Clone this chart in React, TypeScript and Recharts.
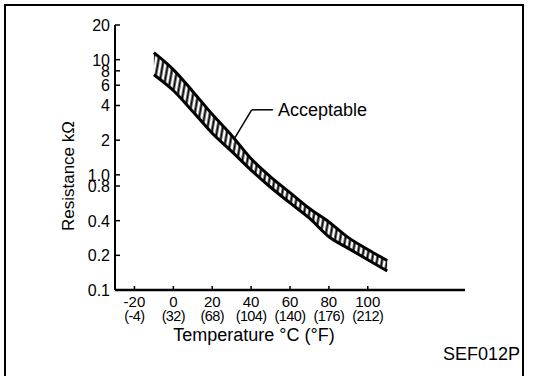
import React from "react";
import {
  ComposedChart,
  Area,
  Line,
  XAxis,
  YAxis,
  Label,
  ReferenceLine,
  ReferenceDot,
} from "recharts";

// thermistor resistance band (kOhm)
const temps = [-10, 0, 10, 20, 30, 40, 50, 60, 70, 80, 90, 100, 110];
const upperK = [11.5, 8.2, 5.3, 3.35, 2.2, 1.38, 0.96, 0.7, 0.51, 0.39, 0.285, 0.225, 0.18];
const lowerK = [7.4, 5.4, 3.55, 2.3, 1.6, 1.1, 0.78, 0.57, 0.42, 0.29, 0.23, 0.183, 0.146];

const xTicks = [-20, 0, 20, 40, 60, 80, 100];
const xTicksF = ["(-4)", "(32)", "(68)", "(104)", "(140)", "(176)", "(212)"];
const yTicks = [0.1, 0.2, 0.4, 0.8, 1, 2, 4, 6, 8, 10, 20];
const yTickLabels = ["0.1", "0.2", "0.4", "0.8", "1.0", "2", "4", "6", "8", "10", "20"];

const FONT = "'Liberation Sans', Arial, Helvetica, sans-serif";

const chartData = temps.map((t, i) => ({
  t,
  hi: upperK[i],
  lo: lowerK[i],
  band: [lowerK[i], upperK[i]],
}));

const XTick = (props: any) => {
  const { x, y, payload } = props;
  const i = xTicks.indexOf(payload.value);
  return (
    <g>
      <line x1={x} y1={y} x2={x} y2={y - 4} stroke="#000" strokeWidth={1.5} />
      <text x={x} y={y + 17} textAnchor="middle" fontSize={15} fill="#000" fontFamily={FONT}>
        {payload.value}
      </text>
      <text x={x} y={y + 31} textAnchor="middle" fontSize={14.5} fill="#000" fontFamily={FONT} letterSpacing={-0.6}>
        {xTicksF[i]}
      </text>
    </g>
  );
};

const YTick = (props: any) => {
  const { x, y, payload } = props;
  const i = yTicks.indexOf(payload.value);
  return (
    <g>
      <line x1={x + 5} y1={y} x2={x + 10} y2={y} stroke="#000" strokeWidth={1.5} />
      <text x={x} y={y + 6} textAnchor="end" fontSize={16} fill="#000" fontFamily={FONT}>
        {yTickLabels[i]}
      </text>
    </g>
  );
};

const yTitle = (props: any) => {
  const vb = props.viewBox;
  const cx = vb.x + 68;
  const cy = vb.y + 151;
  return (
    <text
      x={cx}
      y={cy}
      transform={`rotate(-90, ${cx}, ${cy})`}
      textAnchor="middle"
      dominantBaseline="central"
      fontSize={17}
      fill="#000"
      fontFamily={FONT}
    >
      Resistance kΩ
    </text>
  );
};

const xTitle = (props: any) => {
  const vb = props.viewBox;
  return (
    <text x={vb.x + 139} y={vb.y + 51} textAnchor="middle" fontSize={18} fill="#000" fontFamily={FONT}>
      Temperature °C (°F)
    </text>
  );
};

export default function App() {
  return (
    <div
      style={{
        position: "absolute",
        left: 0,
        top: 0,
        width: 544,
        height: 376,
        background: "#fff",
        overflow: "hidden",
        fontFamily: FONT,
      }}
    >
      <ComposedChart
        width={544}
        height={376}
        data={chartData}
        margin={{ top: 25, right: 79, bottom: 56, left: 0 }}
      >
        <defs>
          <pattern id="hatch" width="5" height="10" patternUnits="userSpaceOnUse" patternTransform="rotate(10)">
            <rect width="5" height="10" fill="#fff" />
            <line x1="1.5" y1="0" x2="1.5" y2="10" stroke="#000" strokeWidth="2.2" />
          </pattern>
        </defs>
        <XAxis
          dataKey="t"
          type="number"
          domain={[-30, 150]}
          ticks={xTicks}
          interval={0}
          height={30}
          tickSize={0}
          tickMargin={0}
          tick={<XTick />}
          axisLine={{ stroke: "#000", strokeWidth: 2.5 }}
          allowDataOverflow
        >
          <Label content={xTitle} />
        </XAxis>
        <YAxis
          type="number"
          scale="log"
          domain={[0.1, 20]}
          ticks={yTicks}
          interval={0}
          width={115}
          tickSize={0}
          tickMargin={5}
          tick={<YTick />}
          axisLine={{ stroke: "#000", strokeWidth: 2 }}
          allowDataOverflow
        >
          <Label content={yTitle} />
        </YAxis>
        <Area
          dataKey="band"
          type="monotone"
          stroke="none"
          fill="url(#hatch)"
          fillOpacity={1}
          isAnimationActive={false}
        />
        <Line dataKey="hi" type="monotone" stroke="#000" strokeWidth={3} dot={false} isAnimationActive={false} />
        <Line dataKey="lo" type="monotone" stroke="#000" strokeWidth={3} dot={false} isAnimationActive={false} />
        <ReferenceLine
          segment={[
            { x: 31.7, y: 2.1 },
            { x: 40.3, y: 3.67 },
          ]}
          stroke="#000"
          strokeWidth={1.5}
        />
        <ReferenceLine
          segment={[
            { x: 40.3, y: 3.67 },
            { x: 51.2, y: 3.67 },
          ]}
          stroke="#000"
          strokeWidth={1.5}
        />
        <ReferenceDot
          x={51.2}
          y={3.67}
          r={1}
          fill="none"
          stroke="none"
          label={{ value: "Acceptable", position: "right", offset: 4, fill: "#000", fontSize: 18, fontFamily: FONT }}
        />
      </ComposedChart>
      <div
        style={{
          position: "absolute",
          right: 24,
          top: 345,
          fontSize: 18,
          lineHeight: "18px",
          color: "#000",
        }}
      >
        SEF012P
      </div>
      {/* scanned frame, bottom edge missing */}
      <div
        style={{
          position: "absolute",
          left: 4,
          top: 4,
          width: 516,
          height: 400,
          borderLeft: "2px solid #000",
          borderTop: "2px solid #000",
          borderRight: "2px solid #000",
          pointerEvents: "none",
          zIndex: 2,
        }}
      />
    </div>
  );
}
